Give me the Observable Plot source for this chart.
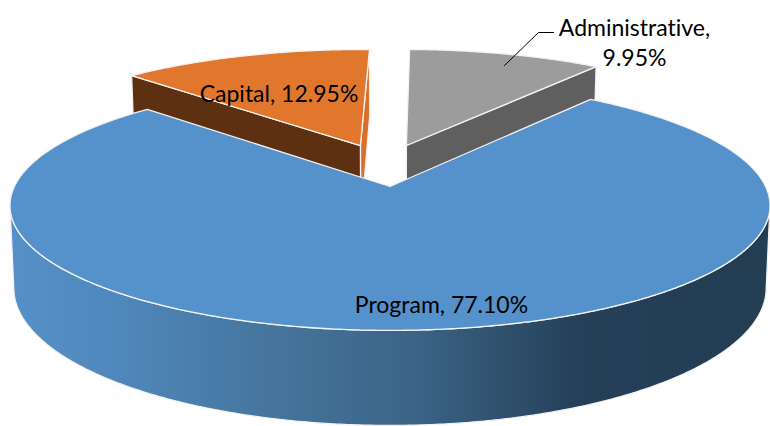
<!DOCTYPE html>
<html>
<head>
<meta charset="utf-8">
<script src="https://cdn.jsdelivr.net/npm/d3@7"></script>
<script src="https://cdn.jsdelivr.net/npm/@observablehq/plot@0.6"></script>
<style>
  html, body { margin: 0; padding: 0; background: #fff; overflow: hidden; }
  svg { display: block; }
  text { font-variant-ligatures: none; }
</style>
</head>
<body>
<div id="chart"></div>
<script>
// Data
const categories = ["Program", "Capital", "Administrative"];
const shares = [77.10, 12.95, 9.95];

// Appearance (separate from the data)
const topColors = ["#5591CA", "#E1762D", "#9C9C9C"];
const startAngle = 36.8;                 // clockwise from the back of the disc
const explodeU = [0, -0.083, 0.046];     // slice displacement on the disc plane
const explodeV = [0, 0.354, 0.354];

// Perspective of the disc plane
const W = 770, H = 426;
const cx = 389.5, cy = 186, A = 375.6, B = 122, k = 0.152, d0 = 80.6, taper = 0.99;
const rad = Math.PI / 180;

function ground(angle, r, i) {
  return [r * Math.sin(angle * rad) + explodeU[i], r * Math.cos(angle * rad) + explodeV[i]];
}
function topPoint([u, v]) {
  const w = 1 + k * v;
  return {x: cx + A * u / w, y: cy - B * v / w};
}
function bottomPoint([u, v]) {
  const w = 1 + k * v, p = topPoint([u, v]);
  return {x: cx + (p.x - cx) * taper, y: p.y + d0 / w};
}

// Slice angle ranges from the values
let cursor = startAngle;
const slices = categories.map((name, i) => {
  const a0 = cursor, a1 = cursor + shares[i] * 3.6;
  cursor = a1;
  return {name, share: shares[i], i, a0, a1, mid: (a0 + a1) / 2};
});

function arcGround(i, a0, a1) {
  const n = Math.ceil(a1 - a0) * 2;
  return d3.range(n + 1).map(j => ground(a0 + (a1 - a0) * j / n, 1, i));
}
function topFace(s) {
  const apex = ground(0, 0, s.i);
  return [apex, ...arcGround(s.i, s.a0, s.a1), apex].map(topPoint);
}
// The rim is only seen between the two silhouette angles of the disc
function rimWall(s) {
  const silhouette = Math.asin(k) / rad;
  const g = arcGround(s.i, 90 + silhouette, 270 - silhouette);
  const t = g.map(topPoint), b = g.map(bottomPoint).reverse();
  return [...t, ...b, t[0]];
}
function cutWall(s, angle) {
  const apex = ground(0, 0, s.i), edge = ground(angle, 1, s.i);
  return [topPoint(apex), topPoint(edge), bottomPoint(edge), bottomPoint(apex), topPoint(apex)];
}

const [program, capital, admin] = slices;
const poly = (pts, fill, extra = {}) => Plot.line(pts, {
  x: "x", y: "y", fill, stroke: "#f2f2f2", strokeWidth: 1.3, curve: "linear", ...extra
});

// Label layout in chart units
const labelText = s => `${s.name}, ${s.share.toFixed(2)}%`;
const labels = [
  {text: labelText(program), x: 441, y: 303},
  {text: labelText(capital), x: 278.5, y: 92},
  {text: `${admin.name},\n${admin.share.toFixed(2)}%`, x: 634, y: 41}
];
const leader = [{x: 504, y: 65}, {x: 538, y: 32}, {x: 553, y: 32}];

const chart = Plot.plot({
  width: W, height: H,
  margin: 0,
  style: {background: "#fff", fontFamily: "Lato, 'Open Sans', sans-serif"},
  x: {domain: [0, W], range: [0, W], axis: null},
  y: {domain: [0, H], range: [0, H], axis: null},
  marks: [
    // exploded slices at the back
    poly(cutWall(capital, capital.a1), "#D9702A"),
    poly(cutWall(capital, capital.a0), "#5E3012"),
    poly(topFace(capital), topColors[1]),
    poly(cutWall(admin, admin.a1), "#5F5F5F"),
    poly(topFace(admin), topColors[2]),
    // the large slice
    poly(rimWall(program), "url(#rimShade)"),
    poly(topFace(program), topColors[0]),
    // labels
    Plot.line(leader, {x: "x", y: "y", stroke: "#000", strokeWidth: 1, curve: "linear"}),
    Plot.text(labels, {
      x: "x", y: "y", text: "text", fontSize: 23, fill: "#000",
      lineHeight: 1.3, textAnchor: "middle", frameAnchor: "middle"
    })
  ]
});

chart.insertAdjacentHTML("afterbegin", `
  <defs>
    <linearGradient id="rimShade" x1="0" x2="1" y1="0" y2="0">
      <stop offset="0" stop-color="#5590C8"/>
      <stop offset="0.14" stop-color="#4F88BC"/>
      <stop offset="0.33" stop-color="#46769F"/>
      <stop offset="0.52" stop-color="#3C6588"/>
      <stop offset="0.76" stop-color="#243F57"/>
      <stop offset="1" stop-color="#233D53"/>
    </linearGradient>
  </defs>`);
document.getElementById("chart").append(chart);
</script>
</body>
</html>
